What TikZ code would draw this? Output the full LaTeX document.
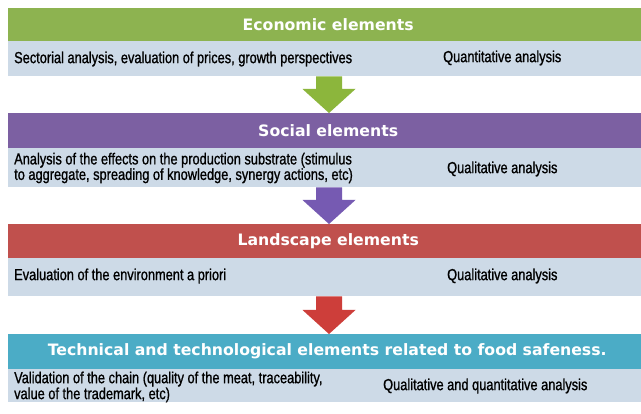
\documentclass[tikz,border=0pt]{standalone}
\usepackage{fontspec}
\setmainfont{Liberation Sans}
\newfontfamily\bodyfont{Liberation Sans}[FakeStretch=0.8,FakeBold=1]
\newfontfamily\headfont{DejaVu Sans}
\usetikzlibrary{calc}
\definecolor{ecogreen}{RGB}{141,179,80}
\definecolor{socpurple}{RGB}{124,96,162}
\definecolor{landred}{RGB}{192,80,77}
\definecolor{techteal}{RGB}{75,172,198}
\definecolor{bandblue}{RGB}{205,218,231}
\definecolor{arrgreen}{RGB}{140,182,60}
\definecolor{arrpurple}{RGB}{118,90,178}
\definecolor{arrred}{RGB}{205,62,58}
\newcommand\blockarr[3]{%
  \fill[#3] let \p1=(#1.south -| ax), \p2=(#2.north -| ax) in
    (\x1-13pt,\y1) -- (\x1+13pt,\y1) -- (\x1+13pt,\y2+24pt) -- (\x1+26.5pt,\y2+24pt)
    -- (\x1,\y2) -- (\x1-26.5pt,\y2+24pt) -- (\x1-13pt,\y2+24pt) -- cycle;}
\begin{document}
\begin{tikzpicture}[x=1pt,y=-1pt,
  header/.style={rectangle, inner sep=0pt, minimum width=633pt, anchor=north west,
    text=white, font=\headfont\bfseries\fontsize{15.7}{17}\selectfont},
  band/.style={rectangle, fill=bandblue, inner sep=0pt, minimum width=633pt, anchor=north west},
  lefttext/.style={anchor=west, inner sep=0pt, align=left,
    font=\bodyfont\fontsize{16}{15.5}\selectfont},
  righttext/.style={anchor=west, inner sep=0pt, font=\bodyfont\fontsize{16}{15.5}\selectfont}]
\fill[white] (0,0) rectangle (641,414);
\useasboundingbox (0,0) rectangle (641,414);
\coordinate (ax) at (329,0);
% headers and bands
\node[header, fill=ecogreen, minimum height=33pt] (h1) at (8,8) {\hspace*{7pt}Economic elements};
\node[band, minimum height=35pt] (b1) at (8,41) {};
\node[header, fill=socpurple, minimum height=35pt] (h2) at (8,113) {\hspace*{7pt}Social elements};
\node[band, minimum height=39pt] (b2) at (8,148) {};
\node[header, fill=landred, minimum height=34pt] (h3) at (8,224) {\hspace*{7pt}Landscape elements};
\node[band, minimum height=38pt] (b3) at (8,258) {};
\node[header, fill=techteal, minimum height=35pt] (h4) at (8,334) {\hspace*{5pt}Technical and technological elements related to food safeness.};
\node[band, minimum height=33pt] (b4) at (8,369) {};
% texts
\node[lefttext] (t1) at (14,59) {Sectorial analysis, evaluation of prices, growth perspectives};
\node[righttext] (r1) at (443,58) {Quantitative analysis};
\node[lefttext] (t2) at (14,168) {Analysis of the effects on the production substrate (stimulus\\to aggregate, spreading of knowledge, synergy actions, etc)};
\node[righttext] (r2) at (447,169) {Qualitative analysis};
\node[lefttext] (t3) at (14,276) {Evaluation of the environment a priori};
\node[righttext] (r3) at (447,276) {Qualitative analysis};
\node[lefttext, font=\bodyfont\fontsize{16}{14}\selectfont] (t4) at (14,387) {Validation of the chain (quality of the meat, traceability,\\value of the trademark, etc)};
\node[righttext] (r4) at (383,386) {Qualitative and quantitative analysis};
% arrows
\blockarr{b1}{h2}{arrgreen}
\blockarr{b2}{h3}{arrpurple}
\blockarr{b3}{h4}{arrred}
\end{tikzpicture}
\end{document}
